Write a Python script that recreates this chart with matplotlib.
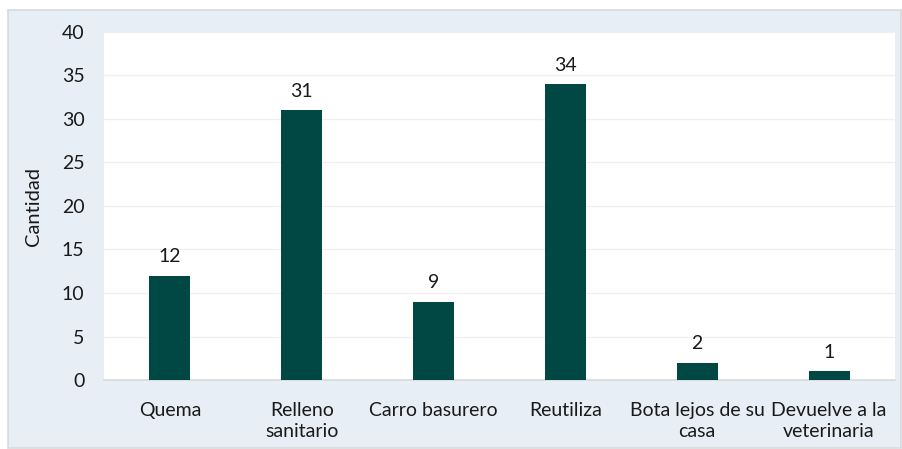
import matplotlib.pyplot as plt
from matplotlib.patches import Rectangle

# datos
categorias = ['Quema', 'Relleno\nsanitario', 'Carro basurero', 'Reutiliza',
              'Bota lejos de su\ncasa', 'Devuelve a la\nveterinaria']
cantidad = [12, 31, 9, 34, 2, 1]
yticks = [0, 5, 10, 15, 20, 25, 30, 35, 40]

plt.rcParams['font.family'] = ['Lato', 'DejaVu Sans']

fig = plt.figure(figsize=(9.02, 4.49), dpi=100, facecolor='white')
fig.patches.append(Rectangle((8 / 902, 1 / 449), 893 / 902, 438 / 449,
                             transform=fig.transFigure, facecolor='#E8EEF5',
                             edgecolor='#D9D9D9', linewidth=1.2, zorder=-1))

ax = fig.add_axes([104 / 902, 1 - 380 / 449, 791 / 902, 348 / 449])
ax.set_facecolor('white')
x = range(len(categorias))
bars = ax.bar(x, cantidad, width=0.31, color='#014744', zorder=3)
for b, v in zip(bars, cantidad):
    ax.text(b.get_x() + b.get_width() / 2, v + 1.2, str(v), ha='center',
            va='bottom', fontsize=14, color='#1a1a1a')

ax.set_xlim(-0.5, len(categorias) - 0.5)
ax.set_ylim(0, 40)
ax.set_yticks(yticks)
ax.set_xticks(list(x))
ax.set_xticklabels(categorias, fontsize=14, color='#1a1a1a', linespacing=1.3)
ax.tick_params(axis='y', labelsize=14, colors='#1a1a1a', length=0, pad=14)
ax.tick_params(axis='x', length=0, pad=16)
ax.grid(axis='y', color='#F0F0F0', linewidth=1, zorder=0)
for s in ['top', 'right', 'left']:
    ax.spines[s].set_visible(False)
ax.spines['bottom'].set_color('#D9D9D9')
ax.spines['bottom'].set_linewidth(1.2)
ax.set_ylabel('Cantidad', fontsize=14.5, color='#1a1a1a', labelpad=14)

plt.savefig('out.png', dpi=100, facecolor=fig.get_facecolor())
